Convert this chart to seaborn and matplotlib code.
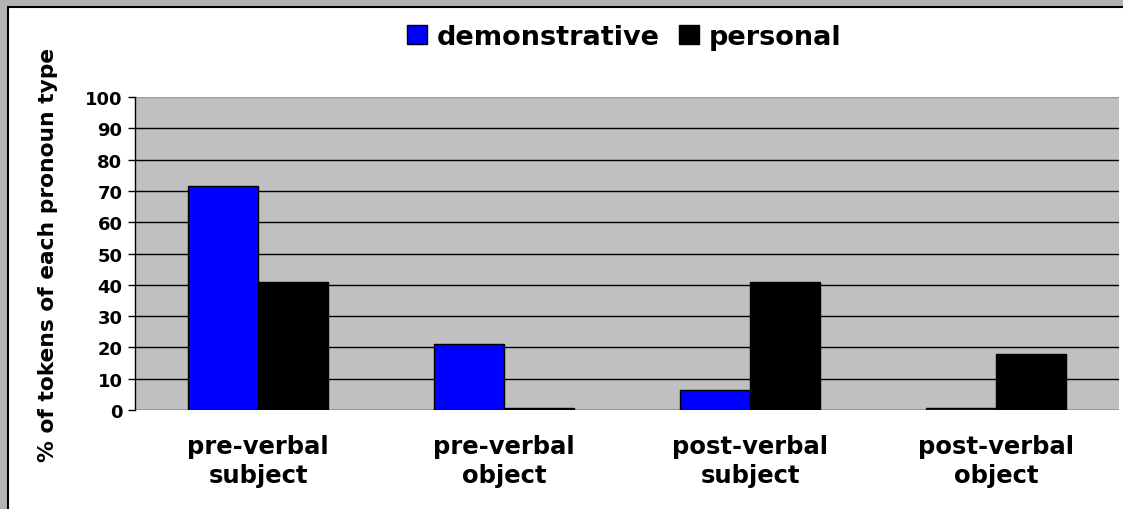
import numpy as np
import pandas as pd
import matplotlib
matplotlib.use("Agg")
import matplotlib.pyplot as plt
from matplotlib.patches import Rectangle
import seaborn as sns

categories = ["pre-verbal\nsubject", "pre-verbal\nobject", "post-verbal\nsubject", "post-verbal\nobject"]
demonstrative = [71.5, 21.0, 6.5, 0.5]
personal = [41.0, 0.5, 41.0, 18.0]
series = ["demonstrative", "personal"]
colors = ["#0000ff", "#000000"]

df = pd.DataFrame({
    "position": categories * 2,
    "value": demonstrative + personal,
    "type": [series[0]] * 4 + [series[1]] * 4,
})

sns.set_style("white")
plt.rcParams["font.family"] = ["DejaVu Sans"]
plt.rcParams["font.weight"] = "bold"
for k in ["text.color", "axes.labelcolor", "xtick.color", "ytick.color"]:
    plt.rcParams[k] = "black"

fig = plt.figure(figsize=(11.23, 5.10), dpi=100)
fig.patch.set_facecolor("#b3b3b3")
# white chart panel with black border (runs off the right / bottom edge)
fig.patches.append(Rectangle((7.5 / 1123, -0.1), 1.2, 1 - 8 / 510 + 0.1,
                             transform=fig.transFigure, facecolor="white",
                             edgecolor="black", linewidth=1.5, zorder=-5))

ax = fig.add_axes([135 / 1123, 1 - 411 / 510, (1119 - 135) / 1123, (411 - 98) / 510])
ax.set_zorder(5)
sns.barplot(data=df, x="position", y="value", hue="type", palette=colors,
            width=0.57, edgecolor="black", linewidth=1, saturation=1,
            ax=ax, legend=True, gap=0)

ax.set_facecolor("#c0c0c0")
ax.set_ylim(0, 100)
ax.set_yticks(np.arange(0, 101, 10))
ax.yaxis.grid(True, color="black", linewidth=1)
ax.set_axisbelow(True)
ax.get_ygridlines()[-1].set_color("#999999")
for s in ["top", "right", "bottom"]:
    ax.spines[s].set_visible(False)
ax.spines["left"].set_color("black")
ax.spines["left"].set_linewidth(1)
ax.tick_params(axis="y", direction="out", length=5, width=1, color="black",
               labelsize=13, pad=4, left=True)
ax.tick_params(axis="x", length=0, labelsize=17.5, pad=17)
for lab in ax.get_xticklabels():
    lab.set_fontweight("bold")
    lab.set_linespacing(1.3)
for lab in ax.get_yticklabels():
    lab.set_fontweight("bold")
ax.set_xlabel("")
ax.set_ylabel("")

fig.text(48 / 1123, 1 - 255 / 510, "% of tokens of each pronoun type", rotation=90,
         ha="center", va="center", fontsize=15.7, fontweight="bold", zorder=6)

handles, labels = ax.get_legend_handles_labels()
ax.get_legend().remove()
leg = fig.legend(handles, labels, loc="center", bbox_to_anchor=(624 / 1123, 1 - 38 / 510),
                 ncol=2, frameon=False, handlelength=0.75, handleheight=0.75,
                 handletextpad=0.35, columnspacing=0.7,
                 prop={"size": 19.5, "weight": "bold"})
leg.set_zorder(6)

fig.savefig("out.png", dpi=100, facecolor=fig.get_facecolor())
